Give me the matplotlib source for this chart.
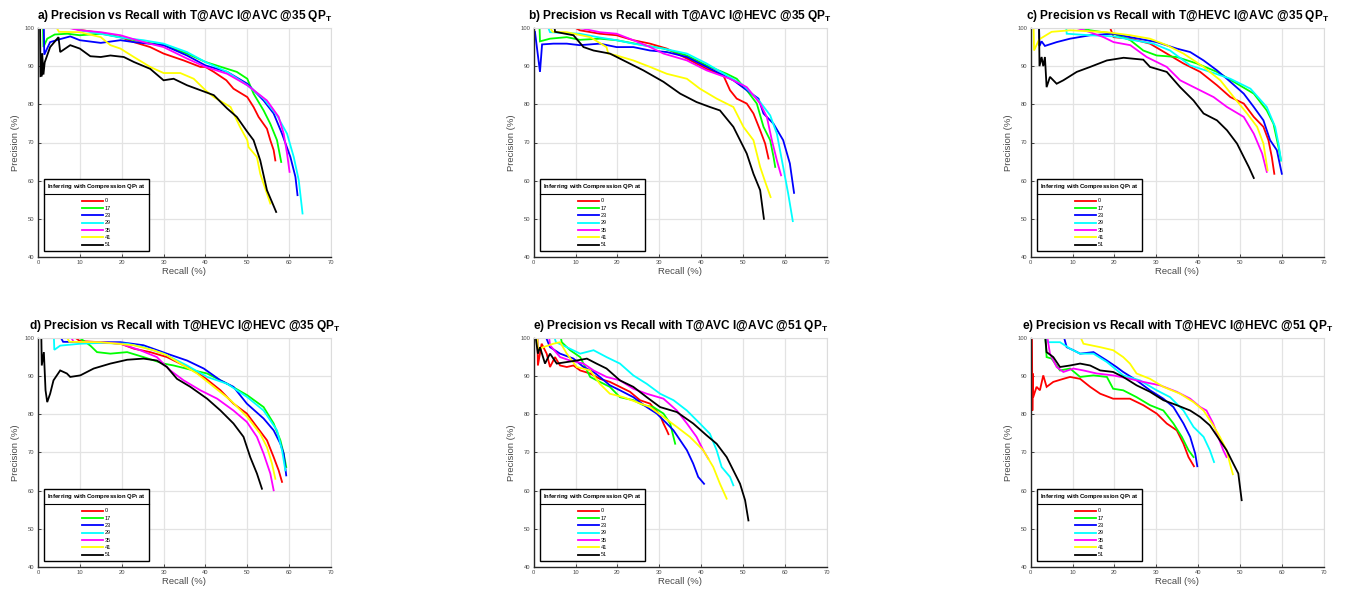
import matplotlib
matplotlib.use("Agg")
import matplotlib.pyplot as plt
from matplotlib.lines import Line2D

plt.rcParams['font.family'] = ['Liberation Sans', 'DejaVu Sans']
plt.rcParams['mathtext.default'] = 'regular'

# ---------------- data (recall %, precision %) ----------------
QP_LEVELS = ['0', '17', '23', '29', '35', '41', '51']
COLORS = ['#ff0000', '#00ff00', '#0000ff', '#00ffff', '#ff00ff', '#ffff00', '#000000']

TITLES = [
    r"a) Precision vs Recall with T@AVC I@AVC @35 QP$_{T}$",
    r"b) Precision vs Recall with T@AVC I@HEVC @35 QP$_{T}$",
    r"c) Precision vs Recall with T@HEVC I@AVC @35 QP$_{T}$",
    r"d) Precision vs Recall with T@HEVC I@HEVC @35 QP$_{T}$",
    r"e) Precision vs Recall with T@AVC I@AVC @51 QP$_{T}$",
    r"e) Precision vs Recall with T@HEVC I@HEVC @51 QP$_{T}$",
]

# panel a
A_QP0 = [(0,100),(8,100),(10,99.5),(15,98.7),(20,97.5),(22.9,96.3),(26.8,95),(30,93.3),(34.8,91.5),(38.8,89.8),(40,89.8),(42,88.5),(45,86.3),(46.7,84.1),(50,81.9),(51.5,79.3),(52.7,76.7),(54.7,73.6),(55.5,70.6),(56.3,68),(56.7,65.3)]
A_QP17 = [(0,100),(1.2,100),(1.3,95),(2.2,97.2),(4,98.3),(7,98.5),(10,98.1),(15,98.5),(19.7,97.6),(25.2,96.3),(30,95.5),(35.6,93.3),(40,91.1),(45.2,89.3),(47.5,88.5),(50,86.7),(51.5,82.8),(53.9,78.4),(55.5,74.9),(57.1,70.6),(58.1,64.9)]
A_QP23 = [(0,100),(1.4,100),(1.5,93),(2.9,96.3),(5,97),(7.7,97.8),(10,96.8),(15,96.1),(19.7,96.8),(22.9,96.3),(30,95.5),(35.6,92.8),(40,90.2),(45.2,88.5),(50,85.4),(53.9,81),(56.3,77.6),(58.3,72.3),(60.3,66.2),(61.5,61),(62,56.2)]
A_QP29 = [(0,100),(8.5,100),(10,99.4),(15,98.5),(19.7,97.5),(25.2,96.8),(30,95.9),(35.6,93.7),(40,91.1),(45.2,88.5),(50,85),(53.9,81.5),(57.1,77.1),(59.5,72.3),(61.1,66.2),(62.3,60.1),(63.2,51.4)]
A_QP35 = [(0,100),(7.5,100),(10,99.4),(15,98.9),(19.7,98.1),(25.2,96.3),(30,95),(35.6,92),(40,89.8),(45.2,88),(50,85),(54.7,81),(57.5,76.7),(58.7,72.3),(59.5,67.1),(60.1,62.3)]
A_QP41 = [(0,100),(4.5,100),(5,99),(10,98.9),(15,97.6),(17.3,95.5),(19.7,94.6),(22.9,92.4),(26.8,89.8),(30,88.2),(34,88.2),(37.2,86.7),(40,83.7),(42,81.9),(46,79.3),(48.3,74),(50,70.6),(50.3,68.8),(52.3,66.2),(53.1,61.8),(54.7,56.6),(55.5,54)]
A_QP51 = [(0.5,100),(0.6,87.4),(0.9,87.5),(1,93.3),(1.3,87.8),(1.6,91),(2.9,95),(4.9,97.6),(5.3,93.7),(7.7,95.5),(10,94.6),(12.5,92.6),(15,92.4),(17.3,92.8),(20.5,92.4),(22.9,91.1),(26.8,89.3),(30,86.3),(32.4,86.7),(35.6,85),(38.8,83.7),(42,82.4),(45.2,78.9),(47.5,76.7),(50,72.8),(51.5,70.6),(53.1,65.3),(54.7,57.5),(55.9,54.4),(56.9,51.8)]

# panel b
B_QP0 = [(0,100),(10,100),(11,99.4),(15.8,98.5),(19.8,98.1),(23.8,96.8),(27.8,95.9),(31.8,94.6),(36.6,92),(41.3,89.3),(45.3,87.6),(46.9,83.7),(48.5,81.5),(50.9,80.2),(52.5,77.6),(54.1,73.2),(55.3,69.7),(56.1,65.8)]
B_QP17 = [(0,100),(1.4,100),(1.5,96.5),(3.9,97.2),(7.9,97.6),(11,96.9),(15.8,97.2),(19.8,96.8),(26.2,95.5),(31,94.6),(36.6,92.8),(41.3,90.2),(46.1,88),(48.5,86.7),(50.9,83.7),(53.3,80.2),(54.9,74.1),(56.5,70.6),(57.3,66.2),(57.7,63.6)]
B_QP23 = [(0,40),(0.1,99),(0.3,99),(1.5,88.5),(2,95.7),(4.7,95.9),(7.9,95.9),(11,95.5),(15.8,95.9),(19.8,95),(23.8,95),(27.8,94.1),(31.8,93.7),(36.6,92.4),(39.7,90.7),(43.7,88.5),(47.7,86.3),(50.9,83.7),(53.7,81.5),(54.9,77.6),(57.3,74.9),(59.6,70.6),(61.2,64.5),(62.2,56.8)]
B_QP29 = [(0,100),(3.5,100),(3.9,98.9),(11,98.5),(15.8,97.5),(19.8,96.8),(23.8,95.9),(31,94.6),(36.6,93.3),(41.3,90.7),(46.1,87.6),(50.1,85),(54.1,80.6),(56.5,77.1),(58.1,72.3),(59.6,63.6),(60.8,56.6),(61.9,49.4)]
B_QP35 = [(0,100),(11,100),(15.8,98.9),(19.8,98.5),(23.8,96.8),(27.8,95),(31,93.3),(36.6,91.5),(41.3,88.9),(46.9,86.7),(50.9,84.5),(54.1,80.2),(55.7,76.7),(56.9,70.6),(58.1,65.3),(59.1,61.4)]
B_QP41 = [(0,100),(4,100),(4.5,99),(7.9,98.9),(13.5,97.6),(17.4,95),(17.8,93.3),(19.8,92.8),(23.8,91.5),(27.8,89.8),(31.8,88),(36.6,86.7),(39.7,84.1),(43.7,81.5),(47.7,79.3),(50.1,74.1),(52.5,70.6),(54.1,63.6),(55.3,59.7),(56.6,55.7)]
B_QP51 = [(0,100),(5,100),(5.1,99),(9.5,98.1),(11.9,95),(14.3,94.1),(18.2,93.3),(22.2,91.1),(26.2,88.9),(31,85.9),(35,82.8),(38.9,80.6),(42.1,79.3),(44.5,78.4),(47.7,74.1),(49.3,70.6),(50.9,67.1),(52.5,61.8),(54.1,57.5),(55,50)]

# panel c
C_QP0 = [(0,100),(19,100),(19.8,97.6),(23.8,97.2),(28.5,95.9),(32.5,93.3),(36.5,90.7),(40.5,88.5),(44.5,85),(47.7,81.9),(50.9,80.2),(53.3,76.7),(55.6,74.1),(56.8,70.6),(57.6,66.2),(58.2,61.8)]
C_QP17 = [(0,100),(12,100),(14.2,99.4),(19.8,98.5),(23.8,96.8),(26.9,94.1),(30.1,92.8),(34.9,92.4),(39.7,90.7),(44.5,88.5),(49.3,85.4),(53.3,82.8),(56.4,78.4),(58,74.9),(59.2,68.8),(59.8,65.3)]
C_QP23 = [(0,100),(2,100),(2.1,95.3),(2.6,96.5),(3.4,95.3),(6.2,96.3),(9.4,97.2),(14.2,98.1),(19.8,98.5),(23.8,97.6),(30.1,96.3),(34.9,94.6),(38.1,93.7),(41.3,91.5),(44.5,88.9),(47.7,85.9),(50.9,82.8),(53.3,79.3),(55.6,75.8),(57.2,70.6),(58.8,68),(60,61.8)]
C_QP29 = [(0,100),(8.5,100),(8.6,98.5),(14.2,98.1),(19.8,97.8),(24.6,96.8),(29.3,95.9),(33.3,94.1),(38.1,90.2),(42.9,88.5),(47.7,86.7),(52.5,84.1),(56.4,79.3),(58.4,74.1),(59.2,69.7),(59.8,65.3)]
C_QP35 = [(0,100),(11,100),(14.2,98.9),(17.4,97.6),(19.8,96.3),(23.8,95.5),(27.7,92.4),(32.5,89.8),(35.7,86.3),(39.7,84.1),(43.7,81.9),(46.9,79.3),(50.9,76.7),(53.3,72.3),(55.3,67.1),(56.4,62.3)]
C_QP41 = [(0,100),(0.7,100),(0.8,94.1),(2,97),(5,99),(9.4,99.4),(18.2,98.9),(23.8,98.1),(28.5,97.2),(32.5,95.5),(36.5,93.3),(41.3,89.8),(45.3,86.3),(48.5,81.9),(51.7,77.6),(54.1,74.1),(55.6,69.7),(56.6,62.7)]
C_QP51 = [(0,100),(2,100),(2.1,90),(2.6,92.4),(3,90),(3.4,92.4),(3.8,84.5),(4.6,87.2),(6.2,85.4),(7.8,86.3),(11,88.5),(14.2,89.8),(18.2,91.5),(22.2,92.2),(26.9,91.7),(28.5,89.8),(32.5,88.5),(35.7,84.5),(38.9,81),(41.3,77.6),(44.5,75.8),(46.9,73.2),(49.3,69.7),(50.9,66.2),(52.1,63.6),(53.3,60.7)]

# panel d
D_QP0 = [(0,100),(9,100),(10,99.2),(14.9,98.9),(19.7,98.5),(22.9,97.2),(26.8,96.3),(30.8,95),(35.6,92.4),(39.6,89.8),(43.6,86.3),(46.7,82.8),(49.9,80.2),(52.3,76.7),(54.7,73.2),(56.3,68.8),(57.5,65.3),(58.3,62.3)]
D_QP17 = [(0,100),(10,100),(12.5,98),(14.1,96.3),(17.3,95.9),(21.3,96.3),(25.2,95),(30,93.3),(32.4,92.8),(37.2,91.5),(40.4,90.7),(45.2,88),(50,85),(53.9,81.9),(56.3,77.6),(57.9,73.2),(58.7,69.7),(59.3,66.2)]
D_QP23 = [(0,100),(5.5,100),(6,99),(14.9,98.9),(19.7,98.9),(25.2,98.1),(30.8,95.9),(35.6,94.1),(39.6,92),(43.6,88.9),(46.7,87.2),(49.9,82.8),(53.9,78.9),(56.3,75.8),(57.9,72.3),(58.7,69.7),(59.3,64)]
D_QP29 = [(0,100),(3.8,100),(3.9,96.9),(5.3,98),(10.1,98.5),(14.9,98.7),(21.3,98.5),(25.2,97.6),(30,95.9),(35.6,92.8),(40.4,89.8),(45.2,88),(50,84.5),(53.9,81),(57.1,75.8),(58.3,70.6),(59.1,65.3)]
D_QP35 = [(0,100),(8,100),(8.5,99),(14.9,98.9),(19.7,98.5),(24.4,96.8),(28.4,95),(31.6,91.5),(34.8,88.9),(38.8,86.3),(42.8,84.1),(46.7,81),(49.9,78),(52.3,74.1),(53.9,69.7),(55.5,64.5),(56.3,60.1)]
D_QP41 = [(0,100),(7,100),(7.5,99),(14.9,98.9),(22.9,98.1),(27.6,96.8),(30.8,95.5),(34,93.3),(38,90.7),(42,87.2),(46,83.7),(50,79.3),(53.1,74.9),(54.7,71.4),(55.9,67.1),(56.7,63.1)]
D_QP51 = [(0.5,100),(0.8,100),(0.9,92.8),(1.4,96.3),(1.8,86.3),(2.2,83.2),(2.9,85.4),(3.7,88.9),(5.3,91.5),(6.9,90.7),(7.7,89.8),(10.1,90.2),(13.3,92),(17.3,93.3),(21.3,94.3),(25.2,94.6),(28.4,94.1),(30.8,92.4),(33.2,89.3),(36.4,87.2),(40.4,84.1),(43.6,81),(46.7,77.6),(49.1,74.1),(50.7,68.8),(52.3,64.5),(53.5,60.5)]

# panel e
E_QP0 = [(0,100),(0.9,100),(1,92.8),(1.9,98.5),(3.1,95.9),(3.9,92.4),(5.1,95),(6.3,92.8),(7.9,92.4),(9.5,92.8),(11.1,91.5),(13.5,90.7),(15.8,89.3),(18.2,88.5),(20.6,87.2),(23,85.9),(25.4,83.7),(27.8,82.8),(30.2,79.7),(31,77.6),(31.8,75.8),(32.2,74.8)]
E_QP17 = [(0,100),(6.5,100),(6.7,98.9),(8.7,96.8),(11.1,95),(13.5,89.8),(15.8,88.5),(18.2,87.2),(20.6,84.5),(23.8,83.7),(26.2,82.4),(28.6,81.9),(31,80.2),(32.6,77.6),(33.8,72.3)]
E_QP23 = [(0,100),(3,100),(3.9,97.6),(6.3,95.9),(9.5,94.6),(11.9,92.4),(14.3,91.1),(15.8,89.8),(18.2,87.6),(20.6,86.3),(23.8,84.5),(27,81.9),(29.4,80.2),(31.8,77.6),(33.4,75.8),(35,73.2),(36.6,70.6),(38.1,67.1),(39.3,63.6),(40.7,61.8)]
E_QP29 = [(0,100),(5,100),(5.3,98.9),(7.9,97.6),(11.1,95.9),(14.3,96.8),(17.4,95),(20.6,93.3),(23.8,90.2),(27,88),(30.2,85.4),(33.4,83.7),(36.6,81),(39.7,77.6),(42.1,74.9),(43.7,70.6),(44.9,66.2),(46.9,63.6),(47.7,61.4)]
E_QP35 = [(0,100),(3.7,100),(3.9,98.1),(6.3,95),(8.7,94.1),(11.9,93.3),(14.3,91.5),(17.4,89.8),(20.6,88.9),(23.8,86.7),(27,85.4),(31,84.1),(34.2,81),(36.6,77.6),(38.9,74.1),(40.5,70.6),(41.7,68.4)]
E_QP41 = [(0.8,100),(1,97),(2.3,97.6),(4.7,98.5),(6.3,98.9),(7.9,95.9),(10.3,92.4),(13.5,91.5),(15.8,88),(18.2,85.4),(21.4,84.5),(24.6,83.2),(27.8,81.9),(31,79.3),(34.2,76.7),(37.3,74.1),(40.5,70.6),(42.9,66.2),(44.5,61.8),(46.1,57.9)]
E_QP51 = [(0.5,100),(1,95.9),(1.5,97.6),(2.7,93.3),(3.9,95.9),(5.5,93.3),(7.9,93.7),(10.3,94.1),(12.7,94.6),(15,93.3),(17.4,92),(20.6,88.9),(23.8,87.2),(27,84.5),(30.2,81.9),(34.2,80.6),(38.1,77.6),(41.3,74.5),(43.7,72.3),(46.1,68.8),(47.7,65.3),(49.3,61.8),(50.5,57.5),(51.3,52.2)]

# panel f
F_QP0 = [(0,100),(0.3,100),(0.4,81),(0.5,90.7),(0.6,84.5),(1.4,87.2),(2.2,86.3),(3,90.2),(3.8,87.2),(5.4,88.5),(7.8,89.3),(9.4,89.8),(11.8,89.3),(14.2,87.2),(16.6,85.4),(19.7,84.1),(23.7,84.1),(26.9,82.4),(30.1,80.2),(32.5,77.6),(34.9,75.8),(36.5,72.3),(37.7,68.8),(39,66.4)]
F_QP17 = [(0,100),(3.5,100),(3.8,95),(5,94.6),(7,91.5),(9.4,92),(11.8,89.8),(15,90.2),(18.2,89.8),(19.7,86.7),(22.1,86.3),(25.3,84.5),(28.5,82.4),(31.7,81),(34.1,77.6),(36.1,74.1),(37.7,70.6),(38.9,68.8)]
F_QP23 = [(0,100),(8,100),(8.6,97.6),(10.2,96.8),(11.8,95.9),(15,96.3),(18.2,94.1),(20.5,92.4),(22.1,91.1),(25.3,88.9),(28.5,86.3),(31.7,84.1),(34.1,81.9),(36.5,77.6),(38.1,74.1),(39.3,69.7),(39.8,66.4)]
F_QP29 = [(0,100),(3.7,100),(4.2,98.9),(7,98.9),(9.4,97.2),(11.8,95.9),(15,95.9),(18.2,93.7),(22.1,90.2),(26.1,88.9),(30.1,86.3),(33.3,84.5),(36.5,81),(38.9,76.7),(41.3,74.1),(42.8,70.6),(43.8,67.5)]
F_QP35 = [(0,100),(4,100),(4.6,95.9),(6.2,92.4),(7.8,91.1),(10.2,92),(12.6,91.5),(15.8,90.7),(19.7,90.2),(23.7,89.3),(26.9,88.5),(30.9,87.6),(34.9,85.9),(38.1,84.1),(40.5,81.9),(42,81),(43.6,77.6),(44.8,74.1),(46,70.6),(46.8,68.8)]
F_QP41 = [(0,100),(12,100),(12.6,98.5),(16.6,97.6),(19.7,96.8),(22.1,95),(23.7,93.3),(25.3,90.7),(28.5,89.3),(31.7,87.2),(35.7,85.4),(38.9,83.2),(41.3,81),(43.6,77.1),(45.2,74.1),(46.8,70.6),(47.6,67.1),(48.3,64.3)]
F_QP51 = [(0,100),(3.5,100),(3.8,96.3),(5.4,95),(7,92.4),(9.4,92.8),(11.8,93.3),(14.2,92.8),(16.6,91.5),(19.7,91.1),(22.1,89.8),(25.3,87.6),(28.5,85.9),(31.7,83.7),(34.9,82.4),(38.1,81),(40.5,79.3),(42.8,77.1),(45.2,73.2),(46.8,70.6),(48.4,67.1),(49.6,64.5),(50,61),(50.4,57.5)]

PANELS = [
    [A_QP0, A_QP17, A_QP23, A_QP29, A_QP35, A_QP41, A_QP51],
    [B_QP0, B_QP17, B_QP23, B_QP29, B_QP35, B_QP41, B_QP51],
    [C_QP0, C_QP17, C_QP23, C_QP29, C_QP35, C_QP41, C_QP51],
    [D_QP0, D_QP17, D_QP23, D_QP29, D_QP35, D_QP41, D_QP51],
    [E_QP0, E_QP17, E_QP23, E_QP29, E_QP35, E_QP41, E_QP51],
    [F_QP0, F_QP17, F_QP23, F_QP29, F_QP35, F_QP41, F_QP51],
]

X_TICKS = [0, 10, 20, 30, 40, 50, 60, 70]
Y_TICKS = [40, 50, 60, 70, 80, 90, 100]

# ---------------- layout ----------------
W, H = 1347, 595
fig = plt.figure(figsize=(W / 100, H / 100), dpi=100)

col_left = [38, 533.7, 1030.7]
row_top = [28, 338]
ax_w, ax_h = 293, 229

legends = []
for i, curves in enumerate(PANELS):
    r, c = divmod(i, 3)
    ax = fig.add_axes([col_left[c] / W, 1 - (row_top[r] + ax_h) / H, ax_w / W, ax_h / H])
    handles = []
    for curve, col, lab in zip(curves, COLORS, QP_LEVELS):
        xs = [p[0] for p in curve]
        ys = [p[1] for p in curve]
        h, = ax.plot(xs, ys, color=col, lw=1.3, label=lab, solid_joinstyle='miter')
        handles.append(h)
    ax.set_xlim(0, 70)
    ax.set_ylim(40, 100)
    ax.set_xticks(X_TICKS)
    ax.set_yticks(Y_TICKS)
    ax.grid(True, color='#e3e3e3', lw=0.9)
    ax.set_axisbelow(True)
    for s in ['top', 'right']:
        ax.spines[s].set_color('#dcdcdc')
        ax.spines[s].set_linewidth(0.8)
    for s in ['left', 'bottom']:
        ax.spines[s].set_color('#262626')
        ax.spines[s].set_linewidth(1.0)
    ax.tick_params(direction='in', length=2.5, width=0.6, labelsize=4.2,
                   colors='#262626', labelcolor='#4a4a4a', pad=2.5)
    ax.set_xlabel('Recall (%)', fontsize=6.8, color='#4a4a4a', labelpad=1)
    ax.set_ylabel('Precision (%)', fontsize=6.8, color='#4a4a4a', labelpad=3)
    ax.set_title(TITLES[i], fontsize=8.6, fontweight='bold', pad=6.5)
    leg = ax.legend(handles=handles, title=r"Inferring with Compression QP$_{I}$ at",
                    loc='lower left', bbox_to_anchor=(0.02, 0.027),
                    fontsize=4, title_fontproperties={'weight': 'bold', 'size': 4.3},
                    frameon=True, fancybox=False, edgecolor='black', framealpha=1,
                    handlelength=3.8, handletextpad=0.3, labelspacing=0.42,
                    borderpad=0.6, borderaxespad=0, alignment='center')
    leg._legend_box.sep = 5.5
    leg.get_frame().set_linewidth(1.0)
    legends.append(leg)

# separator line between the legend title and its entries
fig.canvas.draw()
renderer = fig.canvas.get_renderer()
inv = fig.transFigure.inverted()
for leg in legends:
    tb = leg.get_title().get_window_extent(renderer)
    fb = leg.get_frame().get_window_extent(renderer)
    y = tb.y0 - 3.0
    (x0, yy), (x1, _) = inv.transform([(fb.x0, y), (fb.x1, y)])
    fig.add_artist(Line2D([x0, x1], [yy, yy], transform=fig.transFigure,
                          color='black', lw=0.8))

fig.savefig('out.png', dpi=100)
